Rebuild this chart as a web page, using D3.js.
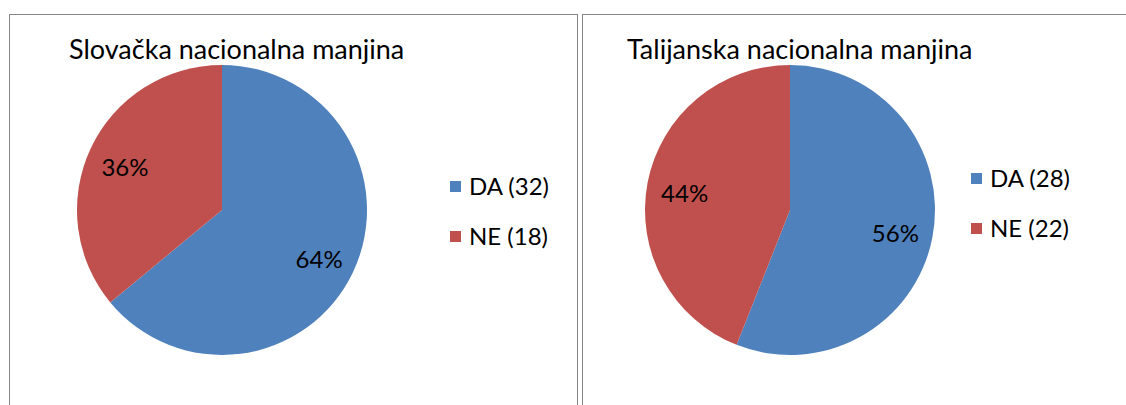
<!DOCTYPE html>
<html>
<head>
    <meta charset="utf-8">
    <script src="https://d3js.org/d3.v7.min.js"></script>
    <style>
        body { margin: 0; background: #fff; }
        svg { display: block; font-family: Lato, "Open Sans", sans-serif; }
    </style>
</head>
<body>
    <div id="chart"></div>
    <script>
        // Data
        const titles = ["Slovačka nacionalna manjina", "Talijanska nacionalna manjina"];
        const categories = ["DA", "NE"];
        const slovakValues = [32, 18];
        const italianValues = [28, 22];
        const colors = ["#4F81BD", "#C0504D"];

        const width = 1126;
        const height = 405;

        const svg = d3.select("#chart")
            .append("svg")
            .attr("width", width)
            .attr("height", height);

        // panel layouts
        const panels = [
            { x: 9.5, w: 568, cx: 222, cy: 210, title: titles[0], values: slovakValues,
              titleX: 69, legX: 450, legY: 186 },
            { x: 582.5, w: 600, cx: 790, cy: 210, title: titles[1], values: italianValues,
              titleX: 627, legX: 971, legY: 178 }
        ];

        const radius = 145;
        const color = d3.scaleOrdinal().domain(categories).range(colors);
        const pie = d3.pie().sort(null).value(d => d.value);
        const arc = d3.arc().innerRadius(0).outerRadius(radius);
        const labelArc = d3.arc().innerRadius(radius * 0.74).outerRadius(radius * 0.74);

        panels.forEach(function(p) {
            const g = svg.append("g");

            // border
            g.append("rect")
                .attr("x", p.x)
                .attr("y", 14.5)
                .attr("width", p.w)
                .attr("height", 420)
                .attr("fill", "none")
                .attr("stroke", "#868686")
                .attr("stroke-width", 1);

            g.append("text")
                .attr("x", p.titleX)
                .attr("y", 59)
                .attr("font-size", 27)
                .attr("fill", "#000")
                .text(p.title);

            const data = categories.map((c, i) => ({ name: c, value: p.values[i] }));
            const total = d3.sum(p.values);
            const arcs = pie(data);

            const pg = g.append("g").attr("transform", `translate(${p.cx},${p.cy})`);

            pg.selectAll("path")
                .data(arcs)
                .enter()
                .append("path")
                .attr("d", arc)
                .attr("fill", d => color(d.data.name));

            pg.selectAll("text")
                .data(arcs)
                .enter()
                .append("text")
                .attr("transform", d => `translate(${labelArc.centroid(d)})`)
                .attr("text-anchor", "middle")
                .attr("dy", "0.5em")
                .attr("font-size", 24)
                .attr("fill", "#000")
                .text(d => Math.round(d.data.value / total * 100) + "%");

            // legend
            const leg = g.append("g").attr("transform", `translate(${p.legX},${p.legY})`);
            const items = leg.selectAll("g")
                .data(data)
                .enter()
                .append("g")
                .attr("transform", (d, i) => `translate(0,${i * 50})`);
            items.append("rect")
                .attr("x", 0)
                .attr("y", -5)
                .attr("width", 11)
                .attr("height", 11)
                .attr("fill", d => color(d.name));
            items.append("text")
                .attr("x", 19)
                .attr("dy", "0.38em")
                .attr("font-size", 24)
                .attr("fill", "#000")
                .text(d => `${d.name} (${d.value})`);
        });
    </script>
</body>
</html>
